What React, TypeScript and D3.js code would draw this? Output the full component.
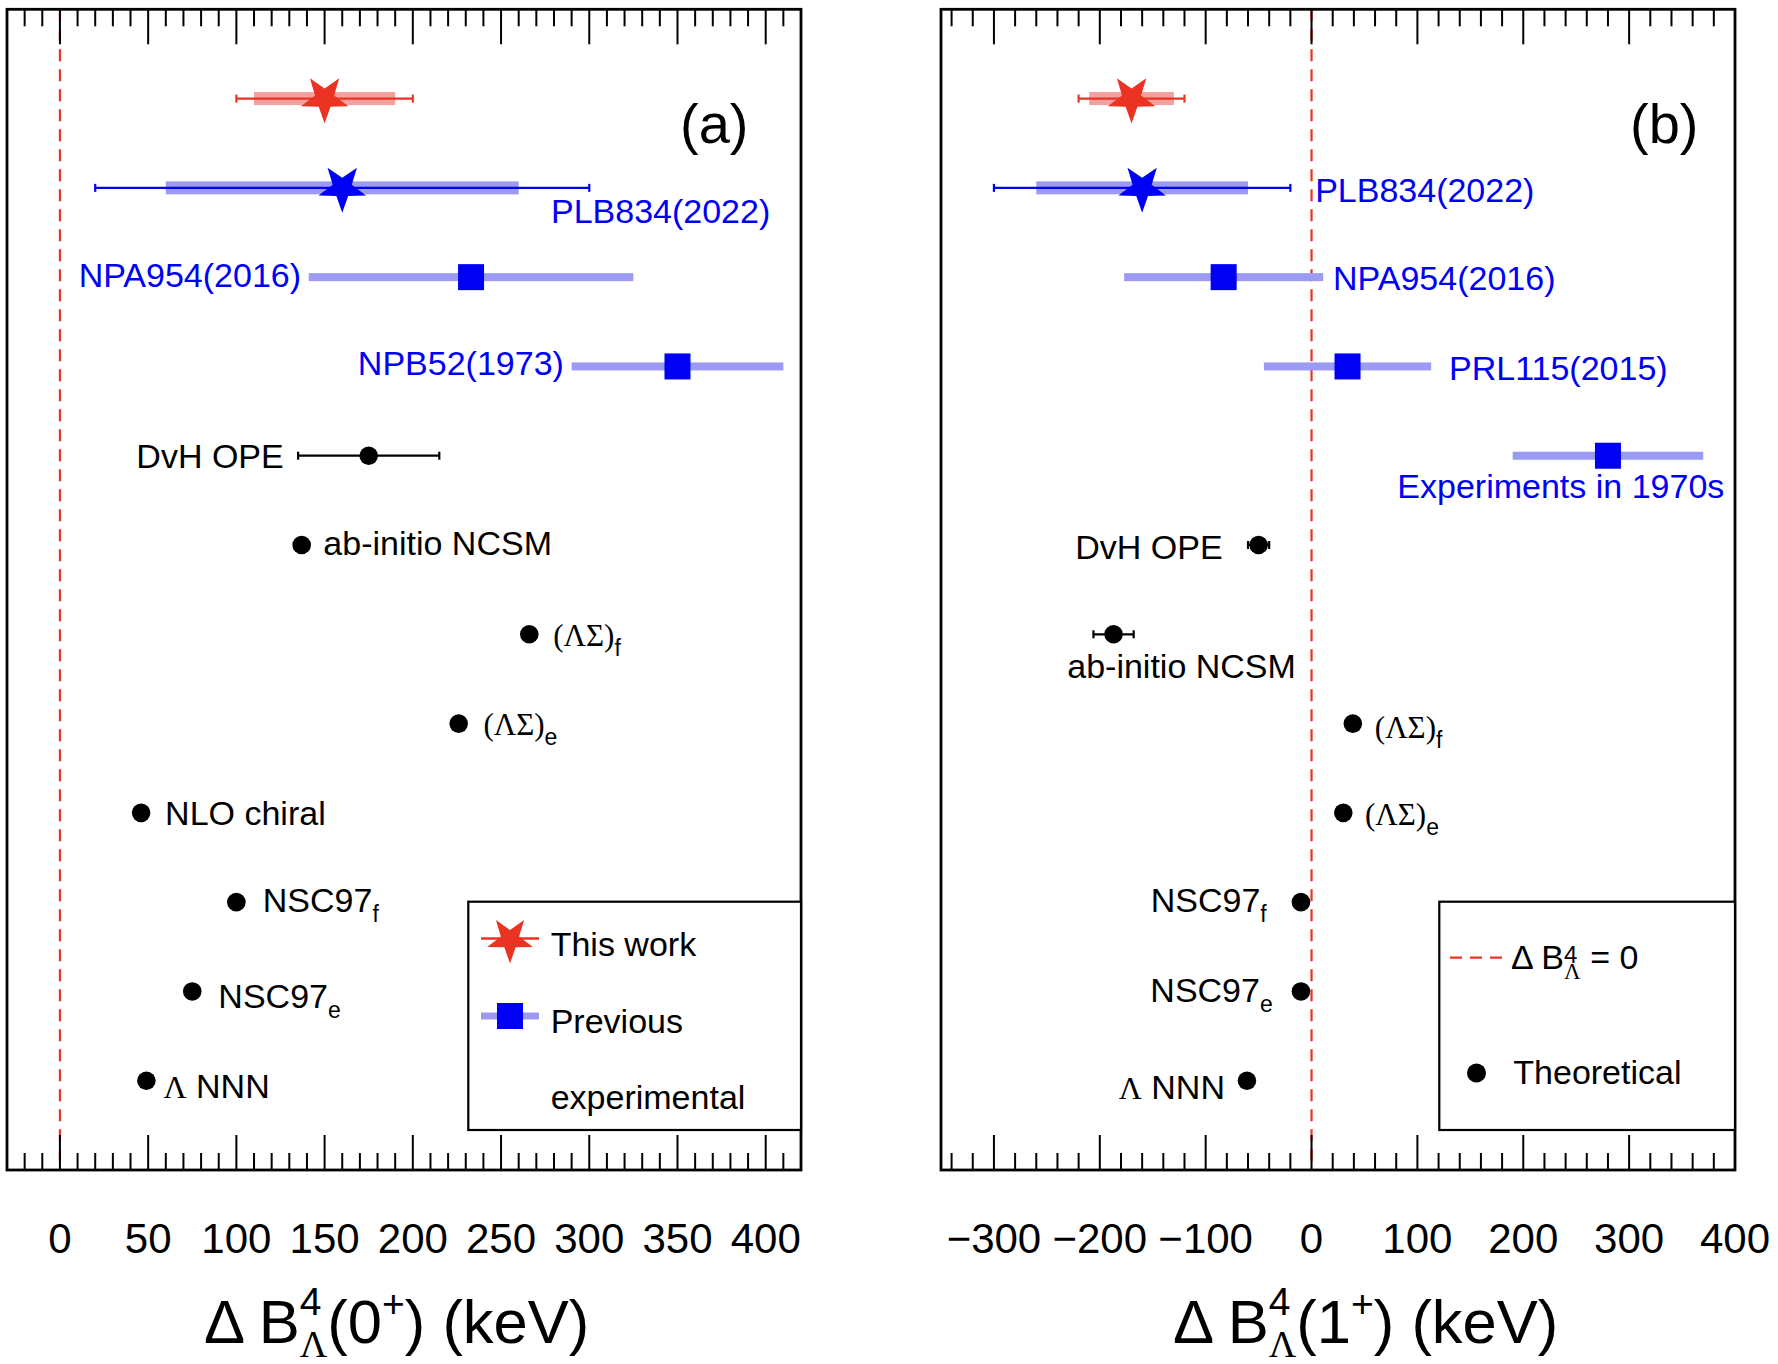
import React from "react";
import * as d3 from "d3";

// ---------------- data ----------------
// Panel (a): ΔB(0+) in keV
const domainA: [number, number] = [-30, 420];
const majorTicksA = [0, 50, 100, 150, 200, 250, 300, 350, 400];

const starNamesA = ["This work", "PLB834(2022)"];
const starValA = [150, 160];
const starStatA = [50, 140];
const starSystA = [40, 100];
const starRowsA = [12, 11];

const expNamesA = ["NPA954(2016)", "NPB52(1973)"];
const expValA = [233, 350];
const expErrA = [92, 60];
const expRowsA = [10, 9];

const theoryNamesA = ["DvH OPE", "ab-initio NCSM", "(ΛΣ)f", "(ΛΣ)e", "NLO chiral", "NSC97f", "NSC97e", "Λ NNN"];
const theoryValA = [175, 137, 266, 226, 46, 100, 75, 49];
const theoryErrA = [40, 0, 0, 0, 0, 0, 0, 0];
const theoryRowsA = [8, 7, 6, 5, 4, 3, 2, 1];

// Panel (b): ΔB(1+) in keV
const domainB: [number, number] = [-350, 400];
const majorTicksB = [-300, -200, -100, 0, 100, 200, 300, 400];

const starNamesB = ["This work", "PLB834(2022)"];
const starValB = [-170, -160];
const starStatB = [50, 140];
const starSystB = [40, 100];
const starRowsB = [12, 11];

const expNamesB = ["NPA954(2016)", "PRL115(2015)", "Experiments in 1970s"];
const expValB = [-83, 34, 280];
const expErrB = [94, 79, 90];
const expRowsB = [10, 9, 8];

const theoryNamesB = ["DvH OPE", "ab-initio NCSM", "(ΛΣ)f", "(ΛΣ)e", "NSC97f", "NSC97e", "Λ NNN"];
const theoryValB = [-50, -187, 39, 30, -10, -10, -61];
const theoryErrB = [10, 19, 0, 0, 0, 0, 0];
const theoryRowsB = [7, 6, 5, 4, 3, 2, 1];

// ---------------- layout / style ----------------
const W = 1778;
const H = 1364;
const SANS = '"Liberation Sans", Arial, Helvetica, sans-serif';
const SERIF = '"Liberation Serif", "Times New Roman", serif';
const RED = "#ea3323";
const RED_LIGHT = "#f3a19c";
const BLUE = "#0000f5";
const BLUE_LIGHT = "#9b9bf3";
const FS = 34;

const TOP = 9.3;
const BOTTOM = 1170;

type LP = { anchor: "start" | "end" | "middle"; dx: number; dy: number };

const starLabelPosA: (LP | null)[] = [null, { anchor: "end", dx: 428, dy: 35 }];
const expLabelPosA: LP[] = [
  { anchor: "end", dx: -170, dy: 9.6 },
  { anchor: "end", dx: -113.6, dy: 8.6 },
];
const theoryLabelPosA: LP[] = [
  { anchor: "end", dx: -85, dy: 12.6 },
  { anchor: "start", dx: 21.7, dy: 10 },
  { anchor: "start", dx: 24, dy: 12 },
  { anchor: "start", dx: 24.7, dy: 11 },
  { anchor: "start", dx: 24, dy: 12.2 },
  { anchor: "start", dx: 26.4, dy: 9.6 },
  { anchor: "start", dx: 26.1, dy: 17 },
  { anchor: "start", dx: 17, dy: 17.3 },
];
const starLabelPosB: (LP | null)[] = [null, { anchor: "start", dx: 173, dy: 13.8 }];
const expLabelPosB: LP[] = [
  { anchor: "start", dx: 109.4, dy: 12.9 },
  { anchor: "start", dx: 101.5, dy: 13.6 },
  { anchor: "start", dx: -210.6, dy: 42.6 },
];
const theoryLabelPosB: LP[] = [
  { anchor: "end", dx: -36, dy: 14.3 },
  { anchor: "middle", dx: 68, dy: 44 },
  { anchor: "start", dx: 22, dy: 14.8 },
  { anchor: "start", dx: 21.7, dy: 12.2 },
  { anchor: "end", dx: -34.2, dy: 9.6 },
  { anchor: "end", dx: -28.2, dy: 10.3 },
  { anchor: "end", dx: -22, dy: 18.6 },
];

const yScale = d3.scaleLinear().domain([0, 13]).range([BOTTOM, TOP]);

function starPath(cx: number, cy: number, R: number, ratio = 0.4) {
  const pts: [number, number][] = [];
  for (let i = 0; i < 10; i++) {
    const ang = Math.PI + (i * Math.PI) / 5;
    const rad = i % 2 === 0 ? R : R * ratio;
    pts.push([cx + rad * Math.sin(ang), cy - rad * Math.cos(ang)]);
  }
  return d3.line()(pts) + "Z";
}

function RichLabel({ name, x, y, anchor, color }: { name: string; x: number; y: number; anchor: string; color: string }) {
  let parts: React.ReactNode[];
  if (name.startsWith("(ΛΣ)")) {
    parts = [
      <tspan key="a" fontFamily={SERIF} fontSize={31}>(ΛΣ)</tspan>,
      <tspan key="b" fontSize={23} dy={10}>{name.slice(4)}</tspan>,
    ];
  } else if (name.startsWith("NSC97")) {
    parts = [
      <tspan key="a">NSC97</tspan>,
      <tspan key="b" fontSize={23} dy={10}>{name.slice(5)}</tspan>,
    ];
  } else if (name.startsWith("Λ ")) {
    parts = [
      <tspan key="a" fontFamily={SERIF} fontSize={32}>Λ</tspan>,
      <tspan key="b">{name.slice(1)}</tspan>,
    ];
  } else {
    parts = [<tspan key="a">{name}</tspan>];
  }
  return (
    <text x={x} y={y} textAnchor={anchor as any} fill={color} fontSize={FS} fontFamily={SANS}>
      {parts}
    </text>
  );
}

function ErrorBar({ x0, x1, y, color, cap = 8, w = 2.2 }: { x0: number; x1: number; y: number; color: string; cap?: number; w?: number }) {
  return (
    <g stroke={color} strokeWidth={w}>
      <line x1={x0} x2={x1} y1={y} y2={y} />
      <line x1={x0} x2={x0} y1={y - cap / 2} y2={y + cap / 2} />
      <line x1={x1} x2={x1} y1={y - cap / 2} y2={y + cap / 2} />
    </g>
  );
}

type PanelProps = {
  x0: number;
  x1: number;
  domain: [number, number];
  majorTicks: number[];
  majorStep: number;
  minorStep: number;
  starNames: string[];
  starVal: number[];
  starStat: number[];
  starSyst: number[];
  starRows: number[];
  starLabelPos: (LP | null)[];
  expNames: string[];
  expVal: number[];
  expErr: number[];
  expRows: number[];
  expLabelPos: LP[];
  theoryNames: string[];
  theoryVal: number[];
  theoryErr: number[];
  theoryRows: number[];
  theoryLabelPos: LP[];
};

function Panel(p: PanelProps) {
  const x = d3.scaleLinear().domain(p.domain).range([p.x0, p.x1]);
  const minor = d3
    .range(Math.ceil(p.domain[0] / p.minorStep) * p.minorStep, p.domain[1] + 0.001, p.minorStep)
    .filter((v) => Math.abs(v / p.majorStep - Math.round(v / p.majorStep)) > 1e-6);
  const MAJ = 35;
  const MIN = 17;
  const fmt = (v: number) => (v < 0 ? "\u2212" + Math.abs(v) : String(v));
  return (
    <g>
      {/* zero line */}
      <line x1={x(0)} x2={x(0)} y1={TOP} y2={BOTTOM} stroke={RED} strokeWidth={2.2} strokeDasharray="12,8" />

      {/* stars: this work (red) and PLB834 (blue) */}
      {p.starVal.map((v, i) => {
        const y = yScale(p.starRows[i]);
        const red = i === 0;
        const col = red ? RED : BLUE;
        const band = red ? RED_LIGHT : BLUE_LIGHT;
        const lp = p.starLabelPos[i];
        return (
          <g key={"s" + i}>
            <rect x={x(v - p.starSyst[i])} y={y - 6.5} width={x(v + p.starSyst[i]) - x(v - p.starSyst[i])} height={13} fill={band} />
            <ErrorBar x0={x(v - p.starStat[i])} x1={x(v + p.starStat[i])} y={y} color={col} />
            <path d={starPath(x(v), y, 25)} fill={col} />
            {lp && <RichLabel name={p.starNames[i]} x={x(v) + lp.dx} y={y + lp.dy} anchor={lp.anchor} color={BLUE} />}
          </g>
        );
      })}

      {/* previous experiments */}
      {p.expVal.map((v, i) => {
        const y = yScale(p.expRows[i]);
        const lp = p.expLabelPos[i];
        return (
          <g key={"e" + i}>
            <rect x={x(v - p.expErr[i])} y={y - 4} width={x(v + p.expErr[i]) - x(v - p.expErr[i])} height={8} fill={BLUE_LIGHT} />
            <rect x={x(v) - 13} y={y - 13} width={26} height={26} fill={BLUE} />
            <RichLabel name={p.expNames[i]} x={x(v) + lp.dx} y={y + lp.dy} anchor={lp.anchor} color={BLUE} />
          </g>
        );
      })}

      {/* theoretical */}
      {p.theoryVal.map((v, i) => {
        const y = yScale(p.theoryRows[i]);
        const lp = p.theoryLabelPos[i];
        return (
          <g key={"t" + i}>
            {p.theoryErr[i] > 0 && (
              <ErrorBar x0={x(v - p.theoryErr[i])} x1={x(v + p.theoryErr[i])} y={y} color="#000" cap={8} />
            )}
            <circle cx={x(v)} cy={y} r={9.3} fill="#000" />
            <RichLabel name={p.theoryNames[i]} x={x(v) + lp.dx} y={y + lp.dy} anchor={lp.anchor} color="#000" />
          </g>
        );
      })}

      {/* ticks */}
      <g stroke="#000" strokeWidth={2}>
        {p.majorTicks.map((v) => (
          <g key={"M" + v}>
            <line x1={x(v)} x2={x(v)} y1={TOP} y2={TOP + MAJ} />
            <line x1={x(v)} x2={x(v)} y1={BOTTOM} y2={BOTTOM - MAJ} />
          </g>
        ))}
        {minor.map((v) => (
          <g key={"m" + v}>
            <line x1={x(v)} x2={x(v)} y1={TOP} y2={TOP + MIN} />
            <line x1={x(v)} x2={x(v)} y1={BOTTOM} y2={BOTTOM - MIN} />
          </g>
        ))}
      </g>
      {/* frame */}
      <rect x={p.x0} y={TOP} width={p.x1 - p.x0} height={BOTTOM - TOP} fill="none" stroke="#000" strokeWidth={2.8} />

      {/* tick labels */}
      {p.majorTicks.map((v) => (
        <text key={"l" + v} x={x(v)} y={1253} textAnchor="middle" fontSize={42} fontFamily={SANS} fill="#000">
          {fmt(v)}
        </text>
      ))}
    </g>
  );
}

function AxisTitle({ x, state }: { x: number; state: string }) {
  return (
    <text x={x} y={1343} fontSize={61.5} fontFamily={SANS} fill="#000">
      <tspan>{"Δ B"}</tspan>
      <tspan fontSize={39} dy={-28}>4</tspan>
      <tspan fontSize={38} fontFamily={SERIF} dx={-21.7} dy={42}>Λ</tspan>
      <tspan dy={-14}>{"(" + state}</tspan>
      <tspan fontSize={39} dy={-26}>+</tspan>
      <tspan dy={26}>{") (keV)"}</tspan>
    </text>
  );
}

export default function App() {
  return (
    <svg
      width={W}
      height={H}
      viewBox={`0 0 ${W} ${H}`}
      style={{ position: "absolute", left: 0, top: 0, background: "#fff" }}
    >
      <rect x={0} y={0} width={W} height={H} fill="#fff" />

      <Panel
        x0={7}
        x1={801}
        domain={domainA}
        majorTicks={majorTicksA}
        majorStep={50}
        minorStep={10}
        starNames={starNamesA}
        starVal={starValA}
        starStat={starStatA}
        starSyst={starSystA}
        starRows={starRowsA}
        starLabelPos={starLabelPosA}
        expNames={expNamesA}
        expVal={expValA}
        expErr={expErrA}
        expRows={expRowsA}
        expLabelPos={expLabelPosA}
        theoryNames={theoryNamesA}
        theoryVal={theoryValA}
        theoryErr={theoryErrA}
        theoryRows={theoryRowsA}
        theoryLabelPos={theoryLabelPosA}
      />
      <Panel
        x0={941}
        x1={1735}
        domain={domainB}
        majorTicks={majorTicksB}
        majorStep={100}
        minorStep={20}
        starNames={starNamesB}
        starVal={starValB}
        starStat={starStatB}
        starSyst={starSystB}
        starRows={starRowsB}
        starLabelPos={starLabelPosB}
        expNames={expNamesB}
        expVal={expValB}
        expErr={expErrB}
        expRows={expRowsB}
        expLabelPos={expLabelPosB}
        theoryNames={theoryNamesB}
        theoryVal={theoryValB}
        theoryErr={theoryErrB}
        theoryRows={theoryRowsB}
        theoryLabelPos={theoryLabelPosB}
      />

      {/* panel tags */}
      <text x={680} y={143} fontSize={56} fontFamily={SANS}>(a)</text>
      <text x={1630} y={143} fontSize={56} fontFamily={SANS}>(b)</text>

      {/* legend (a) */}
      <g>
        <rect x={468.3} y={901.7} width={332.7} height={228.3} fill="#fff" stroke="#000" strokeWidth={2.2} />
        <line x1={481} x2={539} y1={938.5} y2={938.5} stroke={RED} strokeWidth={2.5} />
        <path d={starPath(510, 939.5, 24)} fill={RED} />
        <text x={550.7} y={956} fontSize={FS} fontFamily={SANS}>This work</text>
        <rect x={481} y={1012.5} width={58} height={7} fill={BLUE_LIGHT} />
        <rect x={497} y={1003} width={26} height={26} fill={BLUE} />
        <text x={550.7} y={1032.7} fontSize={FS} fontFamily={SANS}>Previous</text>
        <text x={550.7} y={1109} fontSize={FS} fontFamily={SANS}>experimental</text>
      </g>

      {/* legend (b) */}
      <g>
        <rect x={1439.3} y={901.7} width={295.7} height={228.3} fill="#fff" stroke="#000" strokeWidth={2.2} />
        <line x1={1450} x2={1502} y1={957.7} y2={957.7} stroke={RED} strokeWidth={2.2} strokeDasharray="12,8" />
        <text x={1511} y={969} fontSize={FS} fontFamily={SANS}>
          <tspan>{"Δ B"}</tspan>
          <tspan fontSize={24} dy={-6}>4</tspan>
          <tspan fontSize={23} fontFamily={SERIF} dx={-13.3} dy={16}>Λ</tspan>
          <tspan dy={-10}>{" = 0"}</tspan>
        </text>
        <circle cx={1476.5} cy={1073} r={9.5} fill="#000" />
        <text x={1513.3} y={1084} fontSize={FS} fontFamily={SANS}>Theoretical</text>
      </g>

      <AxisTitle x={204} state="0" />
      <AxisTitle x={1173} state="1" />
    </svg>
  );
}
